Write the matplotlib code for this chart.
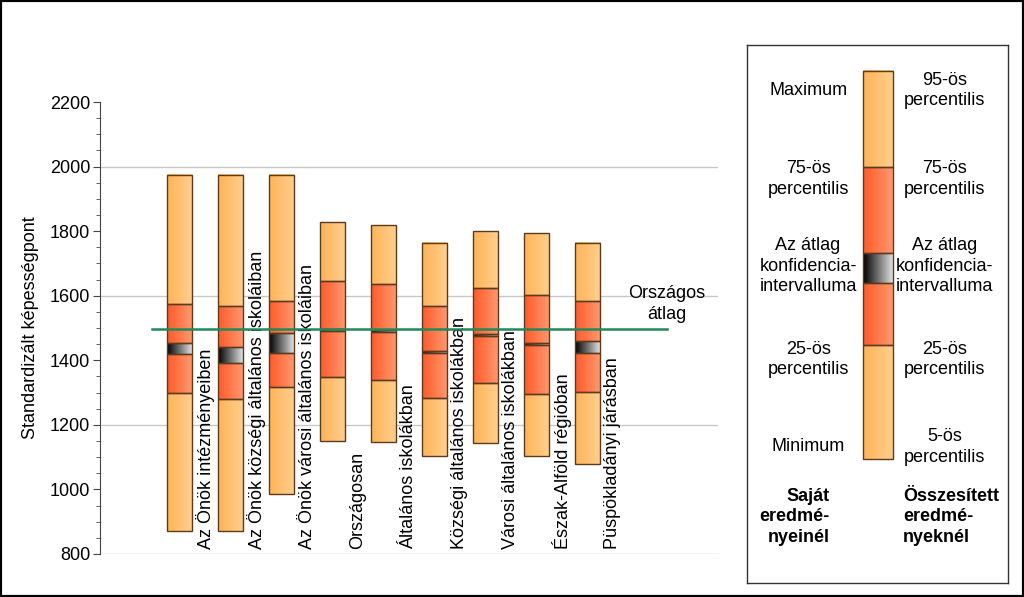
import matplotlib
matplotlib.use("Agg")
import matplotlib.pyplot as plt
import numpy as np
from matplotlib.colors import LinearSegmentedColormap
from matplotlib.patches import Rectangle

plt.rcParams["font.family"] = ["Liberation Sans", "DejaVu Sans"]

categories = ["Az Önök intézményeiben", "Az Önök községi általános iskoláiban",
              "Az Önök városi általános iskoláiban", "Országosan",
              "Általános iskolákban", "Községi általános iskolákban",
              "Városi általános iskolákban", "Észak-Alföld régióban",
              "Püspökladányi járásban"]
low = [872, 872, 985, 1150, 1147, 1104, 1145, 1105, 1080]
q25 = [1300, 1280, 1316, 1349, 1340, 1282, 1331, 1295, 1303]
ci_lo = [1421, 1393, 1424, 1490, 1487, 1424, 1475, 1446, 1424]
ci_hi = [1452, 1441, 1483, 1497, 1493, 1430, 1481, 1452, 1460]
q75 = [1573, 1568, 1584, 1646, 1637, 1568, 1624, 1603, 1583]
high = [1975, 1975, 1975, 1828, 1819, 1764, 1800, 1795, 1763]
national_mean = 1496

# legend sample box (axes fractions of the legend panel)
leg_levels = [0.230, 0.442, 0.558, 0.613, 0.773, 0.952]

FS = 13
ORANGE = LinearSegmentedColormap.from_list("o", ["#ffb458", "#ffcf8e"])
RED = LinearSegmentedColormap.from_list("r", ["#ff5a2a", "#ff9a70"])
CI = LinearSegmentedColormap.from_list("c", ["#000000", "#e8e8e8"])
EDGE = "#5b3a1e"
grad = np.linspace(0, 1, 64).reshape(1, -1)


def seg(ax, x0, x1, lo, hi, cmap):
    ax.imshow(grad, cmap=cmap, extent=(x0, x1, lo, hi), aspect="auto",
              interpolation="bicubic", zorder=2)
    ax.add_patch(Rectangle((x0, lo), x1 - x0, hi - lo, fill=False,
                           ec=EDGE, lw=1, zorder=3))


def box(ax, x0, x1, v):
    seg(ax, x0, x1, v[0], v[1], ORANGE)
    seg(ax, x0, x1, v[1], v[2], RED)
    seg(ax, x0, x1, v[2], v[3], CI)
    seg(ax, x0, x1, v[3], v[4], RED)
    seg(ax, x0, x1, v[4], v[5], ORANGE)


fig = plt.figure(figsize=(10.24, 5.97), dpi=100)
ax = fig.add_axes([100 / 1024, 1 - 554 / 597, 618 / 1024, 452 / 597])

w = 0.5
for i in range(len(categories)):
    box(ax, i - w / 2, i + w / 2,
        [low[i], q25[i], ci_lo[i], ci_hi[i], q75[i], high[i]])
    ax.text(i + 0.5, 815, categories[i], rotation=90, ha="center",
            va="bottom", fontsize=FS, zorder=4)

for g in [800, 1200, 1600, 2000]:
    ax.axhline(g, color="#c8c8c8", lw=1, zorder=0)

ax.plot([-0.54, 9.56], [national_mean, national_mean], color="#23885a",
        lw=1.8, zorder=5)
ax.text(9.55, 1575, "Országos\nátlag", ha="center", va="center",
        fontsize=FS, linespacing=1.3)

ax.set_xlim(-1.56, 10.56)
ax.set_ylim(800, 2200)
ax.set_yticks(np.arange(800, 2201, 200))
ax.set_yticks(np.arange(800, 2201, 50), minor=True)
ax.tick_params(axis="y", which="major", length=5, color="#444444",
               labelsize=FS, pad=2)
ax.tick_params(axis="y", which="minor", length=3, color="#444444")
ax.set_xticks([])
for s in ["top", "right", "bottom"]:
    ax.spines[s].set_visible(False)
ax.spines["left"].set_color("#444444")
ax.set_ylabel("Standardizált képességpont", fontsize=FS, labelpad=8)

# legend panel
lx = fig.add_axes([747 / 1024, 1 - 583 / 597, 261 / 1024, 538 / 597])
lx.set_xlim(0, 1)
lx.set_ylim(0, 1)
lx.set_xticks([])
lx.set_yticks([])
for s in lx.spines.values():
    s.set_color("#333333")
    s.set_linewidth(1)
box(lx, 0.444, 0.559, leg_levels)

left_labels = ["Maximum", "75-ös\npercentilis", "Az átlag\nkonfidencia-\nintervalluma",
               "25-ös\npercentilis", "Minimum"]
right_labels = ["95-ös\npercentilis", "75-ös\npercentilis",
                "Az átlag\nkonfidencia-\nintervalluma", "25-ös\npercentilis",
                "5-ös\npercentilis"]
label_y = [0.915, 0.751, 0.589, 0.416, 0.253]
for t, y in zip(left_labels, label_y):
    lx.text(0.234, y, t, ha="center", va="center", fontsize=FS, linespacing=1.25)
for t, y in zip(right_labels, label_y):
    lx.text(0.757, y, t, ha="center", va="center", fontsize=FS, linespacing=1.25)
lx.text(0.318, 0.123, "Saját\neredmé-\nnyeinél", ha="right", va="center",
        fontsize=FS, fontweight="bold", multialignment="right", linespacing=1.25)
lx.text(0.598, 0.123, "Összesített\neredmé-\nnyeknél", ha="left", va="center",
        fontsize=FS, fontweight="bold", multialignment="left", linespacing=1.25)

fig.patches.append(Rectangle((0, 0), 1, 1, transform=fig.transFigure,
                             fill=False, ec="black", lw=3))

fig.savefig("out.png", dpi=100)
